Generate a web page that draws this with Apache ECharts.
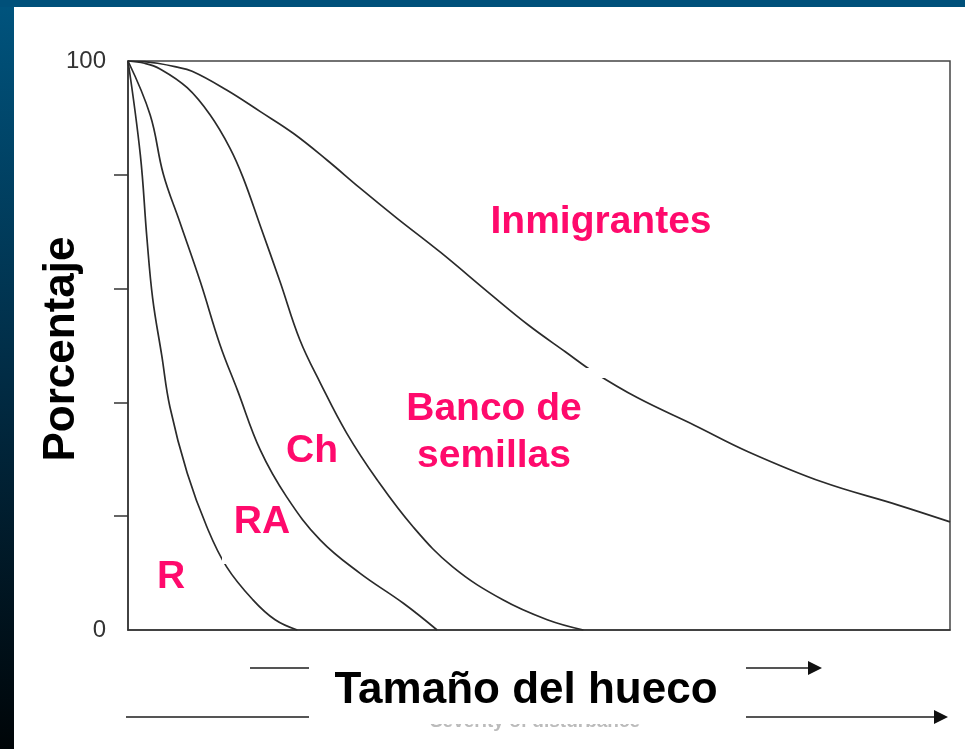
<!DOCTYPE html>
<html>
<head>
<meta charset="utf-8">
<script src="https://cdn.jsdelivr.net/npm/echarts@6/dist/echarts.min.js"></script>
<style>
  html, body { margin: 0; padding: 0; background: #fff; }
  #main { width: 965px; height: 749px; }
</style>
</head>
<body>
<div id="main"></div>
<script>
// curvas: [tamaño del hueco, porcentaje]
var serieR = [[0, 100], [1.5, 83.5], [2.3, 68.9], [3.0, 58.3], [4.1, 48.3], [5.1, 39.2],
  [7.2, 27.6], [9.6, 18.1], [12.0, 11.1], [15.2, 5.3], [17.9, 1.8], [20.6, 0]];
var serieRA = [[0, 100], [2.7, 90.5], [4.3, 80.1], [6.3, 71.7], [8.8, 61.2], [11.2, 50.1],
  [13.3, 42.2], [16.1, 31.6], [19.3, 23.4], [23.4, 15.8], [28.2, 10.0], [33.5, 4.7], [37.6, 0]];
var serieCh = [[0, 100], [2.0, 99.6], [3.9, 98.6], [7.2, 95.3], [10.0, 90.5], [12.4, 84.7], [14.0, 79.5],
  [16.1, 71.0], [18.5, 61.2], [20.9, 51.0], [23.4, 43.4], [26.6, 34.6], [30.3, 26.4], [34.7, 18.1],
  [39.5, 11.1], [45.6, 5.3], [51.0, 1.8], [55.4, 0]];
var serieInmigrantes = [[0, 100], [2.0, 99.9], [3.6, 99.6], [5.7, 99.0], [7.8, 98.2], [12.0, 94.9],
  [16.1, 91.1], [20.1, 87.3], [24.2, 82.6], [28.2, 77.7], [32.7, 72.4], [38.0, 66.4], [44.2, 58.9],
  [48.7, 53.6], [53.2, 48.9], [56.7, 45.3], [62.0, 40.8], [68.9, 36.0], [75.5, 31.3], [84.5, 26.0],
  [93.6, 22.0], [100, 19.0]];
var etiquetasY = [0, 100];
var marcasY = [20, 40, 60, 80];

var myChart = echarts.init(document.getElementById("main"));

function curva(nombre, datos) {
    return {
        name: nombre,
        type: "line",
        data: datos,
        smooth: 0.4,
        symbol: "none",
        lineStyle: { color: "#2b2b2b", width: 1.7 },
        z: 2
    };
}

var rosa = "#ff0a6c";
function etiqueta(texto, x, y) {
    return {
        type: "text", x: x, y: y, z: 10,
        style: { text: texto, fill: rosa, font: "bold 39px 'Liberation Sans', Arial, sans-serif",
            align: "center", verticalAlign: "middle" }
    };
}

var option = {
    backgroundColor: "#fff",
    animation: false,
    grid: {
        left: 128, top: 61, width: 822, height: 569,
        show: true, borderColor: "#444", borderWidth: 1.5, backgroundColor: "transparent"
    },
    xAxis: {
        type: "value", min: 0, max: 100,
        axisLine: { show: true, lineStyle: { color: "#333", width: 1.5 } },
        axisTick: { show: false },
        axisLabel: { show: false },
        splitLine: { show: false }
    },
    yAxis: {
        type: "value", min: 0, max: 100, interval: 20,
        axisLine: { show: true, lineStyle: { color: "#333", width: 1.5 } },
        axisTick: { show: true, length: 14, customValues: marcasY, lineStyle: { color: "#333", width: 1.5 } },
        axisLabel: { customValues: etiquetasY, margin: 22, fontSize: 24, color: "#333", fontFamily: "Liberation Sans" },
        splitLine: { show: false }
    },
    series: [
        curva("R", serieR),
        curva("RA", serieRA),
        curva("Ch", serieCh),
        curva("Inmigrantes", serieInmigrantes)
    ],
    graphic: [
        // marco oscuro de la diapositiva
        { type: "rect", shape: { x: 0, y: 0, width: 14, height: 749 }, z: 20,
          style: { fill: new echarts.graphic.LinearGradient(0, 0, 0, 1, [
              { offset: 0, color: "#00547e" }, { offset: 0.5, color: "#012c45" }, { offset: 1, color: "#000508" }]) } },
        { type: "rect", shape: { x: 0, y: 0, width: 965, height: 7 }, z: 20, style: { fill: "#00507a" } },
        // título del eje y
        { type: "text", x: 62, y: 349, rotation: Math.PI / 2, z: 10,
          style: { text: "Porcentaje", fill: "#000", font: "bold 44px 'Liberation Sans', Arial, sans-serif",
              align: "center", verticalAlign: "middle" } },
        // huecos blancos sobre las curvas
        { type: "rect", shape: { x: 582, y: 368, width: 23, height: 10 }, z: 5, style: { fill: "#fff" } },
        { type: "rect", shape: { x: 222, y: 552, width: 7, height: 12 }, z: 5, style: { fill: "#fff" } },
        etiqueta("Inmigrantes", 601, 222),
        etiqueta("Banco de", 494, 409),
        etiqueta("semillas", 494, 456),
        etiqueta("Ch", 312, 451),
        etiqueta("RA", 262, 522),
        etiqueta("R", 171, 577),
        // flechas del eje x
        { type: "line", shape: { x1: 250, y1: 668, x2: 812, y2: 668 }, z: 3, style: { stroke: "#555", lineWidth: 2 } },
        { type: "polygon", shape: { points: [[808, 661], [822, 668], [808, 675]] }, z: 3, style: { fill: "#111" } },
        { type: "line", shape: { x1: 126, y1: 717, x2: 938, y2: 717 }, z: 3, style: { stroke: "#555", lineWidth: 2 } },
        { type: "polygon", shape: { points: [[934, 710], [948, 717], [934, 724]] }, z: 3, style: { fill: "#111" } },
        { type: "text", x: 535, y: 722, z: 3,
          style: { text: "Severity of disturbance", fill: "#bbb", font: "bold 19px 'Liberation Sans', Arial",
              align: "center", verticalAlign: "middle" } },
        { type: "rect", shape: { x: 309, y: 646, width: 437, height: 78 }, z: 6, style: { fill: "#fff" } },
        { type: "text", x: 526, y: 691, z: 10,
          style: { text: "Tamaño del hueco", fill: "#000", font: "bold 44px 'Liberation Sans', Arial, sans-serif",
              align: "center", verticalAlign: "middle" } }
    ]
};
myChart.setOption(option);
</script>
</body>
</html>
